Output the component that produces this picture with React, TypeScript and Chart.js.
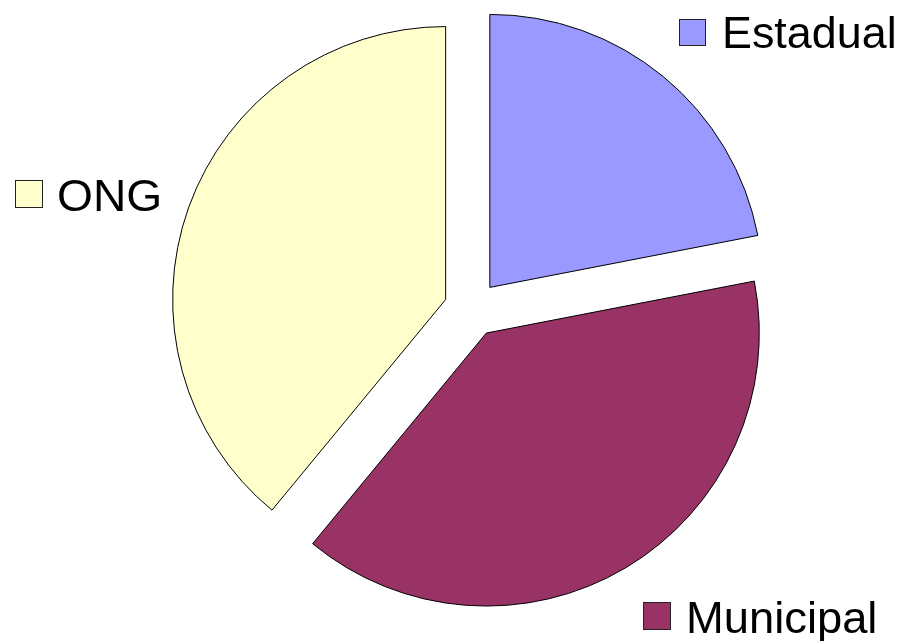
import React, { useEffect, useRef } from "react";
import { Chart, registerables } from "chart.js";

Chart.register(...registerables);

const categories = ["Estadual", "Municipal", "ONG"];
const values = [9, 16, 16];
const colors = ["#9999FF", "#993366", "#FFFFCC"];

// label layout: square left/top/size, text x and baseline, horizontal stretch
const labelLayout = [
  { sx: 679, sy: 19, s: 27, tx: 722, ty: 48, k: 1.02 },
  { sx: 643, sy: 602, s: 28, tx: 686, ty: 633, k: 1.03 },
  { sx: 15, sy: 180, s: 28, tx: 57, ty: 211, k: 1.05 },
];

const EXPLODE = 28;
const RADIUS = 273;

const explodePlugin = {
  id: "explode",
  beforeDatasetsDraw(chart: any) {
    const area = chart.chartArea;
    const cx = (area.left + area.right) / 2;
    const cy = (area.top + area.bottom) / 2;
    const meta = chart.getDatasetMeta(0);
    meta.data.forEach((arc: any) => {
      const mid = (arc.startAngle + arc.endAngle) / 2;
      arc.x = cx + Math.cos(mid) * EXPLODE;
      arc.y = cy + Math.sin(mid) * EXPLODE;
    });
  },
};

const labelPlugin = {
  id: "sliceLabels",
  afterDraw(chart: any) {
    const ctx = chart.ctx;
    categories.forEach((name, i) => {
      const l = labelLayout[i];
      ctx.save();
      ctx.fillStyle = colors[i];
      ctx.fillRect(l.sx, l.sy, l.s, l.s);
      ctx.lineWidth = 1;
      ctx.strokeStyle = "#222";
      ctx.strokeRect(l.sx + 0.5, l.sy + 0.5, l.s - 1, l.s - 1);
      ctx.fillStyle = "#000";
      ctx.font = "44px 'Liberation Sans', Arial, sans-serif";
      ctx.textBaseline = "alphabetic";
      ctx.textAlign = "left";
      ctx.translate(l.tx, l.ty);
      ctx.scale(l.k, 1);
      ctx.fillText(name, 0, 0);
      ctx.restore();
    });
  },
};

export default function App() {
  const ref = useRef<HTMLCanvasElement | null>(null);
  useEffect(() => {
    if (!ref.current) return;
    const chart = new Chart(ref.current, {
      type: "pie",
      data: {
        labels: categories,
        datasets: [
          {
            data: values,
            backgroundColor: colors,
            borderColor: "#000",
            borderWidth: 1,
            clip: false as any,
          },
        ],
      },
      options: {
        responsive: false,
        animation: false,
        radius: RADIUS,
        layout: { padding: { left: 42, right: 0, top: 0, bottom: 23 } },
        plugins: {
          legend: { display: false },
          tooltip: { enabled: false },
        },
        events: [],
      } as any,
      plugins: [explodePlugin, labelPlugin],
    });
    return () => chart.destroy();
  }, []);
  return (
    <canvas
      ref={ref}
      width={902}
      height={641}
      style={{ position: "absolute", left: 0, top: 0, display: "block", background: "#fff" }}
    />
  );
}
